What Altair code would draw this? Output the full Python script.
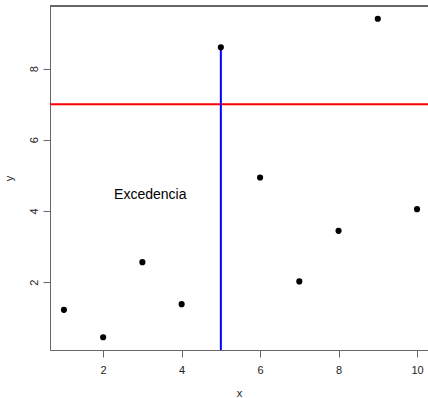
import altair as alt
import pandas as pd

xs = [1, 2, 3, 4, 5, 6, 7, 8, 9, 10]
ys = [1.22, 0.45, 2.56, 1.38, 8.60, 4.94, 2.02, 3.44, 9.40, 4.05]
x_ticks = [2, 4, 6, 8, 10]
y_ticks = [2, 4, 6, 8]
h_level = [7.0]
v_line_x = [5]
v_line_top = [8.60]
label_x = [3.2]
label_y = [4.5]
label_text = ["Excedencia"]

X_DOM = [0.645, 10.28]
Y_DOM = [0.092, 9.758]
W, H = 378, 344
FONT = "Liberation Sans"

pts = pd.DataFrame({"x": xs, "y": ys})
xs_scale = alt.Scale(domain=X_DOM, nice=False, zero=False)
ys_scale = alt.Scale(domain=Y_DOM, nice=False, zero=False)

x_axis = alt.Axis(values=x_ticks, grid=False, tickSize=7, labelPadding=7,
                  domainColor="#666666", tickColor="#666666", labelColor="#222222",
                  labelFont=FONT, labelFontSize=11, titleFont=FONT, titleFontSize=11,
                  titleFontWeight="normal", titleColor="#222222", titlePadding=12)
y_axis = alt.Axis(values=y_ticks, grid=False, tickSize=7, labelPadding=4,
                  labelAngle=270, labelAlign="center", labelBaseline="bottom",
                  domainColor="#666666", tickColor="#666666", labelColor="#222222",
                  labelFont=FONT, labelFontSize=11, titleFont=FONT, titleFontSize=11,
                  titleFontWeight="normal", titleColor="#222222", titlePadding=14)

points = alt.Chart(pts).mark_circle(size=38, color="black", opacity=1).encode(
    x=alt.X("x:Q", scale=xs_scale, axis=x_axis, title="x"),
    y=alt.Y("y:Q", scale=ys_scale, axis=y_axis, title="y"),
)

hline = alt.Chart(pd.DataFrame({"y": h_level})).mark_rule(color="#ff0000", strokeWidth=2).encode(
    y=alt.Y("y:Q", scale=ys_scale),
    x=alt.value(0), x2=alt.value(W),
)

vline = alt.Chart(pd.DataFrame({"x": v_line_x, "y2": v_line_top, "y": [Y_DOM[0]]})).mark_rule(
    color="#0000ff", strokeWidth=2).encode(
    x=alt.X("x:Q", scale=xs_scale),
    y=alt.Y("y:Q", scale=ys_scale),
    y2="y2:Q",
)

text = alt.Chart(pd.DataFrame({"x": label_x, "y": label_y, "t": label_text})).mark_text(
    font=FONT, fontSize=14, color="black", align="center", baseline="middle", dy=2).encode(
    x=alt.X("x:Q", scale=xs_scale),
    y=alt.Y("y:Q", scale=ys_scale),
    text="t:N",
)

top_border = alt.Chart(pts).mark_rule(color="#666666", strokeWidth=1).encode(
    x=alt.value(0), x2=alt.value(W), y=alt.value(0)
)

chart = alt.layer(hline, vline, points, text, top_border).properties(
    width=W, height=H,
    autosize=alt.AutoSizeParams(type="none"),
    padding={"left": 50, "top": 6, "right": 0, "bottom": 48},
).configure_view(stroke=None).configure(background="white")

chart.save("out.html", embed_options={"renderer": "svg", "actions": False})
